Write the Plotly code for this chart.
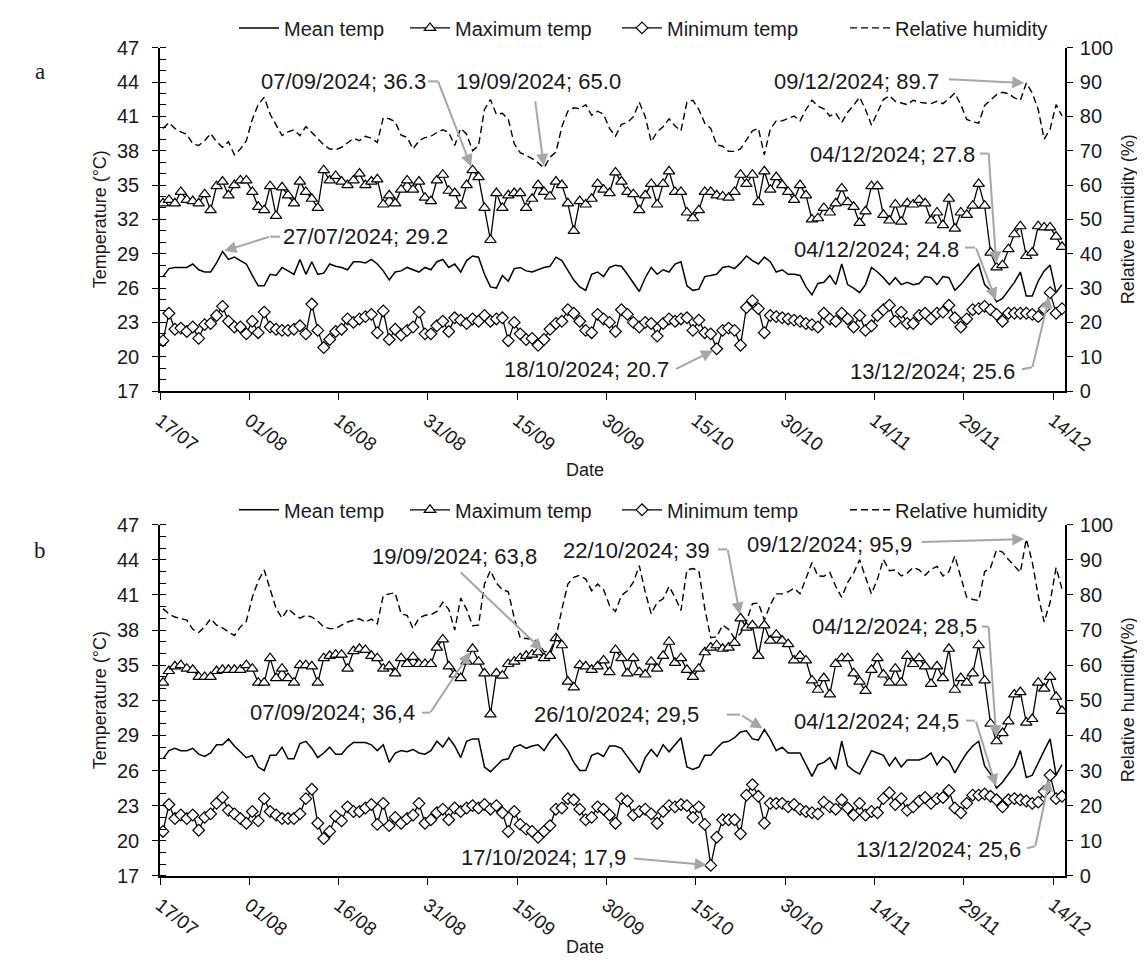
import plotly.graph_objects as go
import pandas as pd

# page body has an 8 px margin: size the figure to fit inside it
PAGE_W, PAGE_H = 1145, 964
OFF = 8
W, H = PAGE_W - 2 * OFF, PAGE_H - OFF

# ---------------- data ----------------
dates = pd.date_range("2024-07-17 12:00", periods=152, freq="D")

a_mean = [27.0, 27.7, 27.8, 27.8, 27.8, 28.1, 27.6, 27.4, 27.4, 28.2,
          29.2, 28.5, 28.7, 28.4, 28.1, 27.1, 26.2, 26.2, 27.2, 27.1,
          27.8, 27.5, 27.2, 28.5, 27.2, 28.3, 27.2, 27.3, 28.1, 27.9,
          27.8, 27.6, 28.3, 28.3, 28.2, 28.5, 28.1, 27.5,
          26.7, 27.4, 27.5, 27.8, 27.6, 27.4, 27.8, 27.6, 28.3, 28.5,
          27.8, 28.1, 27.4, 28.4, 28.8, 28.7, 27.2, 26.1, 26.0, 27.1,
          26.6, 27.7, 27.8, 27.5, 27.4, 27.6, 27.8, 27.9, 28.7, 28.4,
          27.5, 26.7, 26.1, 25.8, 27.2, 27.4, 27.0, 27.8,
          28.0, 27.9, 27.2, 26.5, 25.7, 26.9, 27.8, 27.2, 27.6, 27.4,
          28.1, 28.3, 26.2, 25.8, 25.9, 27.0, 27.1, 27.2, 27.8, 27.9,
          27.7, 28.2, 28.8, 28.4, 28.1, 28.7, 28.3, 27.4, 27.6, 27.2,
          27.2, 27.1, 26.1, 25.4, 26.4, 26.5, 27.1, 26.3, 28.1,
          26.3, 26.0, 25.6, 26.3, 27.8, 27.4, 26.9, 26.3, 26.9, 26.3,
          26.5, 26.3, 26.4, 27.0, 26.9, 26.3, 27.0, 26.9, 25.8, 26.3,
          26.9, 27.6, 28.1, 26.3, 25.8, 24.8, 25.1, 25.8, 26.5, 27.4,
          25.3, 25.3, 26.6, 27.5, 28.0, 25.6, 26.3]

a_max = [33.4, 33.7, 33.4, 34.4, 33.7, 33.6, 33.4, 34.2, 32.8, 34.9,
         35.3, 34.1, 35.0, 35.4, 35.4, 34.4, 33.1, 32.8, 34.9, 32.3,
         34.8, 34.1, 33.4, 35.3, 34.4, 33.8, 33.0, 36.3, 35.4, 35.8,
         35.3, 35.0, 35.4, 36.0, 35.0, 35.3, 35.5, 33.3,
         34.1, 33.4, 34.6, 35.4, 34.6, 35.3, 33.9, 33.6, 35.4, 35.9,
         34.5, 34.3, 33.2, 35.0, 36.3, 35.7, 33.0, 30.2, 34.3, 33.0,
         34.1, 34.3, 34.3, 33.0, 33.8, 35.0, 34.4, 34.0, 35.3, 35.0,
         33.4, 31.0, 33.6, 33.3, 33.8, 35.1, 34.6, 34.3,
         36.1, 35.3, 34.4, 34.2, 32.8, 34.1, 35.1, 33.3, 35.1, 36.2,
         34.4, 34.4, 32.6, 32.1, 32.8, 34.4, 34.4, 34.1, 34.0, 33.9,
         34.4, 35.9, 35.1, 35.9, 33.5, 36.2, 34.6, 35.7, 35.0, 34.4,
         33.7, 35.0, 34.1, 32.0, 32.1, 33.0, 32.6, 33.4, 34.7,
         33.5, 33.1, 31.7, 32.7, 34.9, 34.9, 32.4, 31.9, 33.3, 31.8,
         33.4, 33.3, 33.7, 33.4, 31.9, 32.6, 31.5, 33.8, 31.2, 32.6,
         32.4, 33.2, 35.1, 33.2, 29.1, 27.8, 28.0, 29.4, 30.7, 31.4,
         28.8, 29.1, 31.4, 31.3, 31.3, 30.5, 29.6]

a_min = [21.4, 23.8, 22.4, 22.5, 22.2, 22.6, 21.6, 22.8, 22.9, 23.6,
         24.4, 23.1, 22.6, 22.6, 22.0, 23.1, 22.1, 23.9, 22.6, 22.4,
         22.3, 22.3, 22.4, 22.7, 22.0, 24.6, 22.3, 20.8, 21.5, 22.2,
         22.4, 23.3, 23.0, 23.3, 23.5, 23.7, 22.1, 24.0,
         21.5, 22.4, 21.9, 22.3, 22.6, 23.9, 22.0, 22.0, 22.7, 23.1,
         22.2, 23.4, 23.2, 22.9, 23.3, 23.1, 23.6, 23.1, 23.3, 23.4,
         21.4, 23.0, 22.0, 21.5, 21.6, 21.0, 21.5, 22.4, 22.9, 23.1,
         24.1, 23.8, 23.1, 22.3, 22.1, 23.7, 23.3, 23.0,
         22.2, 24.1, 23.7, 23.0, 22.6, 23.0, 22.9, 21.8, 22.9, 23.3,
         23.1, 23.3, 23.4, 22.3, 23.2, 22.1, 22.0, 20.7, 22.3, 22.5,
         22.3, 21.0, 24.3, 24.9, 24.2, 22.1, 23.6, 23.5, 23.4, 23.3,
         23.2, 23.1, 22.9, 22.8, 22.6, 23.8, 23.3, 23.1, 23.8,
         23.3, 22.6, 23.6, 22.3, 22.7, 23.6, 24.1, 24.5, 23.1, 23.9,
         22.9, 22.9, 23.6, 23.8, 23.3, 23.8, 23.9, 24.5, 23.4, 22.6,
         23.3, 24.1, 24.2, 24.4, 24.1, 23.7, 23.1, 23.8, 23.8, 23.8,
         23.8, 23.7, 23.5, 24.2, 25.6, 23.8, 24.2]

a_rh = [76.5, 78.2, 76.5, 75.5, 74.8, 72.0, 71.5, 72.9, 75.0, 72.6,
        71.0, 72.6, 68.8, 70.5, 72.9, 79.1, 83.4, 85.6, 80.6, 77.4,
        74.4, 75.5, 76.1, 74.4, 77.0, 75.3, 73.6, 71.7, 70.5, 70.3,
        71.0, 72.4, 73.6, 72.9, 74.2, 73.6, 72.4, 79.6,
        79.3, 78.4, 74.5, 73.9, 70.5, 72.9, 73.8, 74.2, 75.3, 76.1,
        75.3, 71.5, 76.5, 74.8, 70.0, 71.5, 82.0, 84.9, 80.6, 80.9,
        79.1, 72.0, 69.4, 68.6, 67.7, 66.5, 65.0, 68.1, 69.6, 77.0,
        81.5, 82.5, 82.2, 83.4, 80.3, 81.5, 80.6, 76.5,
        74.2, 77.7, 78.2, 79.9, 84.1, 79.9, 72.6, 75.5, 77.0, 79.3,
        77.2, 75.8, 84.1, 84.7, 82.0, 78.0, 76.5, 71.7, 71.3, 69.8,
        69.8, 70.5, 73.2, 75.8, 76.5, 68.8, 76.3, 78.7, 78.7, 79.3,
        80.1, 78.7, 82.0, 84.7, 83.0, 82.2, 80.1, 80.9, 78.2,
        81.2, 83.2, 85.6, 82.0, 77.4, 81.2, 84.9, 86.0, 84.4, 83.9,
        83.4, 84.7, 84.1, 83.9, 83.7, 84.4, 83.7, 85.1, 86.8, 83.4,
        79.1, 78.4, 78.0, 83.2, 84.9, 86.3, 87.0, 86.6, 85.4, 84.7,
        89.7, 86.8, 82.0, 73.4, 76.3, 83.4, 80.1]

b_mean = [27.0, 27.7, 27.9, 27.7, 27.7, 27.9, 27.4, 27.2, 27.5, 28.2,
          28.2, 28.7, 28.1, 27.6, 27.1, 27.3, 26.3, 26.0, 27.3, 27.3,
          28.0, 27.0, 27.0, 28.3, 28.5, 27.9, 27.1, 27.5, 28.0, 27.4,
          27.4, 28.0, 28.4, 28.4, 28.4, 28.2, 27.7, 28.2,
          26.7, 27.5, 27.7, 27.6, 27.8, 27.5, 27.4, 27.7, 28.5, 28.0,
          28.8, 28.1, 27.1, 28.5, 28.7, 28.7, 26.3, 25.9, 26.4, 26.9,
          27.0, 28.0, 28.2, 27.9, 28.1, 28.2, 27.7, 28.5, 29.1, 28.4,
          27.7, 26.7, 26.0, 26.0, 27.3, 27.5, 27.2, 28.1,
          28.1, 27.9, 27.2, 26.5, 25.8, 27.1, 27.8, 27.2, 28.2, 27.6,
          28.2, 28.8, 26.3, 26.1, 26.3, 27.3, 27.3, 27.9, 28.4, 28.5,
          28.8, 29.3, 29.4, 28.7, 28.6, 29.5, 28.7, 27.7, 28.0, 27.5,
          27.5, 27.5, 26.5, 25.5, 26.5, 26.7, 27.1, 26.1, 28.5,
          26.4, 26.0, 25.7, 26.7, 27.7, 27.5, 27.3, 26.4, 27.1, 26.3,
          26.9, 26.9, 26.9, 27.1, 27.5, 26.5, 27.2, 26.8, 25.8, 26.7,
          27.5, 28.1, 28.5, 26.4, 25.7, 24.5, 25.0, 25.7, 26.4, 27.7,
          25.4, 25.6, 26.7, 27.7, 28.7, 25.6, 26.5]

b_max = [33.5, 34.5, 34.9, 35.0, 34.7, 34.6, 34.0, 34.0, 34.0, 34.5,
         34.6, 34.6, 34.6, 34.6, 35.0, 34.7, 33.5, 33.5, 35.6, 33.9,
         34.7, 33.9, 33.5, 35.0, 35.0, 34.9, 33.5, 35.6, 35.8, 35.9,
         35.9, 34.7, 36.2, 36.4, 36.3, 35.8, 35.6, 34.7,
         34.9, 34.3, 35.6, 35.1, 35.7, 35.1, 35.1, 35.1, 36.5, 37.2,
         34.9, 34.2, 33.9, 35.3, 36.4, 35.3, 34.3, 30.8, 34.3, 34.1,
         35.1, 35.3, 35.6, 35.8, 35.9, 36.1, 35.6, 35.8, 37.3, 36.7,
         33.6, 33.1, 35.0, 34.9, 34.6, 34.9, 35.4, 34.4,
         36.3, 35.6, 34.3, 35.6, 34.4, 34.2, 35.3, 34.7, 35.8, 37.0,
         35.2, 35.6, 34.6, 34.0, 34.7, 36.1, 36.5, 36.7, 36.4, 36.5,
         36.9, 39.0, 38.2, 38.4, 35.8, 38.4, 37.1, 37.6, 37.1, 36.8,
         35.4, 35.8, 35.4, 33.7, 32.9, 33.9, 32.5, 35.1, 35.6,
         35.6, 34.3, 33.6, 32.8, 34.6, 35.6, 34.2, 33.5, 34.7, 33.5,
         35.8, 35.1, 35.6, 34.9, 33.4, 34.9, 33.9, 36.4, 32.9, 33.9,
         33.5, 34.3, 36.7, 33.7, 30.0, 28.5, 29.2, 30.2, 32.5, 32.7,
         30.1, 30.4, 33.5, 33.0, 34.0, 32.3, 31.1]

b_min = [20.8, 23.1, 21.9, 22.2, 21.9, 22.2, 20.9, 22.0, 22.3, 23.2,
         23.7, 22.6, 22.3, 21.9, 21.5, 22.5, 21.7, 23.6, 22.5, 22.2,
         21.9, 21.9, 21.9, 22.3, 23.6, 24.4, 21.5, 20.2, 20.8, 22.1,
         21.7, 22.9, 22.5, 22.5, 22.8, 23.1, 21.4, 23.2,
         21.3, 22.0, 21.5, 21.9, 22.2, 23.2, 21.5, 21.8, 22.4, 22.7,
         21.8, 22.8, 22.5, 22.8, 23.0, 22.8, 23.1, 22.7, 23.0, 22.4,
         20.8, 22.5, 21.4, 21.0, 20.8, 20.3, 20.8, 21.3, 22.7, 22.8,
         23.6, 23.5, 22.7, 21.8, 22.0, 22.9, 22.7, 22.2,
         21.5, 23.6, 23.4, 22.2, 22.5, 22.7, 22.3, 21.5, 22.5, 23.0,
         22.9, 23.1, 23.0, 22.0, 22.9, 21.4, 17.9, 20.3, 21.8, 21.8,
         21.8, 20.6, 23.9, 24.8, 23.8, 21.5, 23.2, 23.2, 23.2, 22.9,
         23.1, 22.7, 22.5, 22.4, 22.3, 23.3, 22.9, 22.7, 23.5,
         22.8, 22.2, 23.2, 22.2, 22.5, 22.4, 23.6, 24.1, 23.1, 23.6,
         22.6, 22.9, 23.4, 23.7, 23.2, 23.6, 23.7, 24.3, 22.8, 22.4,
         23.2, 23.9, 23.9, 24.0, 23.8, 23.5, 22.9, 23.5, 23.6, 23.5,
         23.4, 23.2, 23.3, 24.2, 25.6, 23.6, 23.8]

b_rh = [76.1, 74.6, 73.7, 73.2, 72.8, 70.2, 69.3, 70.9, 73.2, 71.4,
        70.6, 69.5, 68.4, 70.9, 72.5, 79.3, 84.0, 87.1, 81.7, 76.1,
        73.4, 76.1, 74.6, 73.4, 74.2, 73.7, 72.5, 70.9, 70.4, 70.4,
        71.4, 72.3, 72.8, 73.2, 72.3, 73.1, 71.8, 79.8,
        80.3, 80.6, 74.6, 74.2, 70.4, 73.4, 74.2, 74.4, 75.3, 77.9,
        75.9, 70.0, 79.1, 75.9, 71.2, 71.4, 83.1, 86.9, 83.4, 81.5,
        80.9, 73.4, 67.8, 67.6, 67.4, 66.7, 63.8, 64.0, 67.8, 75.9,
        83.1, 85.0, 85.6, 84.5, 81.2, 83.1, 81.5, 77.0,
        75.3, 79.8, 81.2, 83.6, 88.3, 80.8, 74.6, 77.9, 78.9, 82.4,
        79.3, 75.6, 87.1, 87.5, 86.9, 76.1, 67.8, 68.1, 71.4, 70.2,
        67.6, 69.0, 72.5, 77.5, 77.7, 72.8, 77.2, 80.3, 80.3, 80.9,
        81.9, 80.3, 84.5, 89.2, 85.4, 85.3, 86.4, 82.4, 79.3,
        83.6, 86.2, 90.0, 85.0, 80.3, 84.5, 90.1, 86.9, 87.1, 85.4,
        86.2, 87.8, 87.1, 85.6, 87.3, 88.1, 85.4, 86.6, 91.1, 85.0,
        79.3, 78.7, 78.4, 86.6, 87.8, 92.8, 92.2, 90.1, 88.3, 86.4,
        95.9, 89.4, 79.8, 72.3, 77.9, 87.8, 81.7]

series_names = ["Mean temp", "Maximum temp", "Minimum temp", "Relative humidity"]


# ---------------- helpers (layout only, page-pixel -> paper) ----------------
def px(x):
    return (x - OFF) / W


def py(y):
    return 1 - (y - OFF) / H


FONT = "Liberation Sans, Arial, sans-serif"
GREY = "#a6a6a6"
TXT = "#1a1a1a"

fig = go.Figure()


def add_panel(mean, tmax, tmin, rh, xa, ya, yrh, yover, legs):
    fig.add_trace(go.Scatter(x=dates, y=mean, name=series_names[0], mode="lines",
                             line=dict(color="black", width=1.5),
                             xaxis=xa, yaxis=ya, legend=legs[0]))
    fig.add_trace(go.Scatter(x=dates, y=tmax, name=series_names[1], mode="lines+markers",
                             line=dict(color="black", width=1.3),
                             marker=dict(symbol="triangle-up", size=10, color="white",
                                         line=dict(color="black", width=1.2)),
                             xaxis=xa, yaxis=ya, legend=legs[1]))
    fig.add_trace(go.Scatter(x=dates, y=tmin, name=series_names[2], mode="lines+markers",
                             line=dict(color="black", width=1.3),
                             marker=dict(symbol="diamond", size=9, color="white",
                                         line=dict(color="black", width=1.2)),
                             xaxis=xa, yaxis=ya, legend=legs[2]))
    fig.add_trace(go.Scatter(x=dates, y=rh, name=series_names[3], mode="lines",
                             line=dict(color="black", width=1.4, dash="7px,4px"),
                             xaxis=xa, yaxis=yrh, legend=legs[3]))
    # carrier for the inner half of the crossing major ticks
    fig.add_trace(go.Scatter(x=[dates[0]], y=[None], mode="lines", showlegend=False,
                             hoverinfo="skip", xaxis=xa, yaxis=yover))


add_panel(a_mean, a_max, a_min, a_rh, "x", "y", "y2", "y5",
          ["legend", "legend2", "legend3", "legend4"])
add_panel(b_mean, b_max, b_min, b_rh, "x2", "y3", "y4", "y6",
          ["legend5", "legend6", "legend7", "legend8"])

XDOM = [px(160), px(1065)]
DOM_A = [py(385), py(38)]
DOM_B = [py(875), py(520)]

xcommon = dict(
    domain=XDOM, type="date",
    range=["2024-07-17 00:00", "2024-12-16 00:00"],
    tick0="2024-07-17", dtick=15 * 86400000, tickformat="%d/%m",
    tickangle=38, ticks="outside", ticklen=7, tickwidth=1.3, tickcolor="black",
    showline=True, linecolor="black", linewidth=1.6, showgrid=False, zeroline=False,
    tickfont=dict(family=FONT, size=19, color=TXT), automargin=False,
    ticklabelstandoff=2,
)
tcommon = dict(
    range=[17, 47], dtick=3, tick0=17, ticks="outside", ticklen=6, tickwidth=1.3,
    tickcolor="black", showline=True, linecolor="black", linewidth=1.6,
    showgrid=False, zeroline=False, automargin=False,
    tickfont=dict(family=FONT, size=20, color=TXT), ticklabelstandoff=9,
    minor=dict(ticks="inside", ticklen=6, dtick=1, tick0=17, tickcolor="black",
               tickwidth=1.1, showgrid=False),
)
rcommon = dict(
    range=[0, 100], dtick=10, side="right", ticks="outside", ticklen=6, tickwidth=1.3,
    tickcolor="black", showline=True, linecolor="black", linewidth=1.6,
    showgrid=False, zeroline=False, automargin=False,
    tickfont=dict(family=FONT, size=20, color=TXT), ticklabelstandoff=3,
)
ocommon = dict(
    range=[17, 47], dtick=3, tick0=17, ticks="inside", ticklen=6, tickwidth=1.3,
    tickcolor="black", showline=False, showgrid=False, zeroline=False,
    showticklabels=False, side="left", automargin=False,
)

# one legend box per entry so each sits where the reference puts it
LEG_TEXT_X = [285, 456, 668, 896]
LEG_Y = [18, 505]
legends = {}
k = 1
for ly in LEG_Y:
    for tx in LEG_TEXT_X:
        key = "legend" if k == 1 else f"legend{k}"
        legends[key] = dict(orientation="h", x=px(tx - 51), y=py(ly),
                            xanchor="left", yanchor="middle", itemwidth=40,
                            font=dict(family=FONT, size=20, color=TXT),
                            bgcolor="rgba(0,0,0,0)", borderwidth=0)
        k += 1

fig.update_layout(
    width=W, height=H,
    margin=dict(l=0, r=0, t=0, b=0),
    paper_bgcolor="white", plot_bgcolor="white",
    font=dict(family=FONT, size=19, color=TXT),
    xaxis=dict(anchor="y", **xcommon),
    xaxis2=dict(anchor="y3", **xcommon),
    yaxis=dict(domain=DOM_A, anchor="x", **tcommon),
    yaxis2=dict(anchor="x", overlaying="y", **rcommon),
    yaxis3=dict(domain=DOM_B, anchor="x2", **tcommon),
    yaxis4=dict(anchor="x2", overlaying="y3", **rcommon),
    yaxis5=dict(anchor="x", overlaying="y", **ocommon),
    yaxis6=dict(anchor="x2", overlaying="y3", **ocommon),
    showlegend=True,
    **legends,
)

annotations = []
shapes = []


def label(text, x, y, size=22, angle=0, family=FONT):
    annotations.append(dict(text=text, x=px(x), y=py(y), xref="paper", yref="paper",
                            showarrow=False, xanchor="center", yanchor="middle",
                            textangle=angle, font=dict(family=family, size=size, color=TXT)))


def arrow(xa, ya, xval, yval, ax, ay, standoff=4):
    annotations.append(dict(text="", x=xval, y=yval, xref=xa, yref=ya,
                            ax=ax, ay=ay, axref="pixel", ayref="pixel",
                            showarrow=True, arrowhead=2, arrowsize=1.2, arrowwidth=2,
                            arrowcolor=GREY, standoff=standoff))


def seg(x0, y0, x1, y1):
    shapes.append(dict(type="line", xref="paper", yref="paper",
                       x0=px(x0), y0=py(y0), x1=px(x1), y1=py(y1),
                       line=dict(color=GREY, width=2)))


# panel labels and axis titles
label("a", 40, 62, size=23, family="Liberation Serif, Times New Roman, serif")
label("b", 40, 546, size=23, family="Liberation Serif, Times New Roman, serif")
for top, bot, rhtitle, datey in [(38, 385, "Relative humidity (%)", 465),
                                 (520, 875, "Relative humidity(%)", 947)]:
    mid = (top + bot) / 2
    label("Temperature (°C)", 100, mid, size=18, angle=-90)
    label(rhtitle, 1128, mid, size=18, angle=-90)
    label("Date", 585, datey, size=18)

# ---- panel a callouts ----
label("07/09/2024; 36.3", 343, 72)
seg(428, 72, 438, 72)
arrow("x", "y", dates[52], a_max[52], -35, -90)

label("19/09/2024; 65.0", 538, 72)
arrow("x", "y2", dates[64], a_rh[64], -9, -68, standoff=2)

label("27/07/2024; 29.2", 365, 229)
seg(270, 229, 280, 229)
arrow("x", "y", dates[10], a_mean[10], 48, -15, standoff=2)

label("09/12/2024; 89.7", 856, 72)
arrow("x", "y2", dates[145], a_rh[145], -79, -4, standoff=2)

label("04/12/2024; 27.8", 892, 146)
seg(980, 145, 988, 145)
arrow("x", "y", dates[140], a_max[140], -8, -116)

label("04/12/2024; 24.8", 876, 242)
seg(965, 240, 975, 240)
arrow("x", "y", dates[140], a_mean[140], -21, -55, standoff=2)

label("18/10/2024; 20.7", 586, 363)
arrow("x", "y", dates[93], a_min[93], -42, 21)

label("13/12/2024; 25.6", 932, 365)
seg(1022, 363, 1032, 361)
arrow("x", "y", dates[149], a_min[149], -18, 76)

# ---- panel b callouts ----
label("19/09/2024; 63,8", 454, 552)
arrow("x2", "y4", dates[64], b_rh[64], -85, -81, standoff=2)

label("22/10/2024; 39", 636, 546)
seg(718, 545, 727, 545)
arrow("x2", "y3", dates[97], b_max[97], -13, -70)

label("09/12/2024; 95,9", 829, 540)
arrow("x2", "y4", dates[145], b_rh[145], -106, 3, standoff=2)

label("04/12/2024; 28,5", 894, 623)
seg(982, 623, 988, 623)
arrow("x2", "y3", dates[140], b_max[140], -8, -116)

label("04/12/2024; 24,5", 876, 719)
seg(966, 718, 975, 718)
arrow("x2", "y3", dates[140], b_mean[140], -21, -68, standoff=2)

label("13/12/2024; 25,6", 938, 848)
seg(1027, 847, 1035, 845)
arrow("x2", "y3", dates[149], b_min[149], -15, 72)

label("07/09/2024; 36,4", 332, 710)
seg(422, 710, 430, 710)
arrow("x2", "y3", dates[52], b_max[52], -43, 65)

label("26/10/2024; 29,5", 616, 712)
seg(727, 712, 740, 712)
arrow("x2", "y3", dates[101], b_mean[101], -24, -15, standoff=2)

label("17/10/2024; 17,9", 543, 856)
arrow("x2", "y3", dates[92], b_min[92], -78, -7)

fig.update_layout(annotations=annotations, shapes=shapes)

fig.write_html("out.html")
